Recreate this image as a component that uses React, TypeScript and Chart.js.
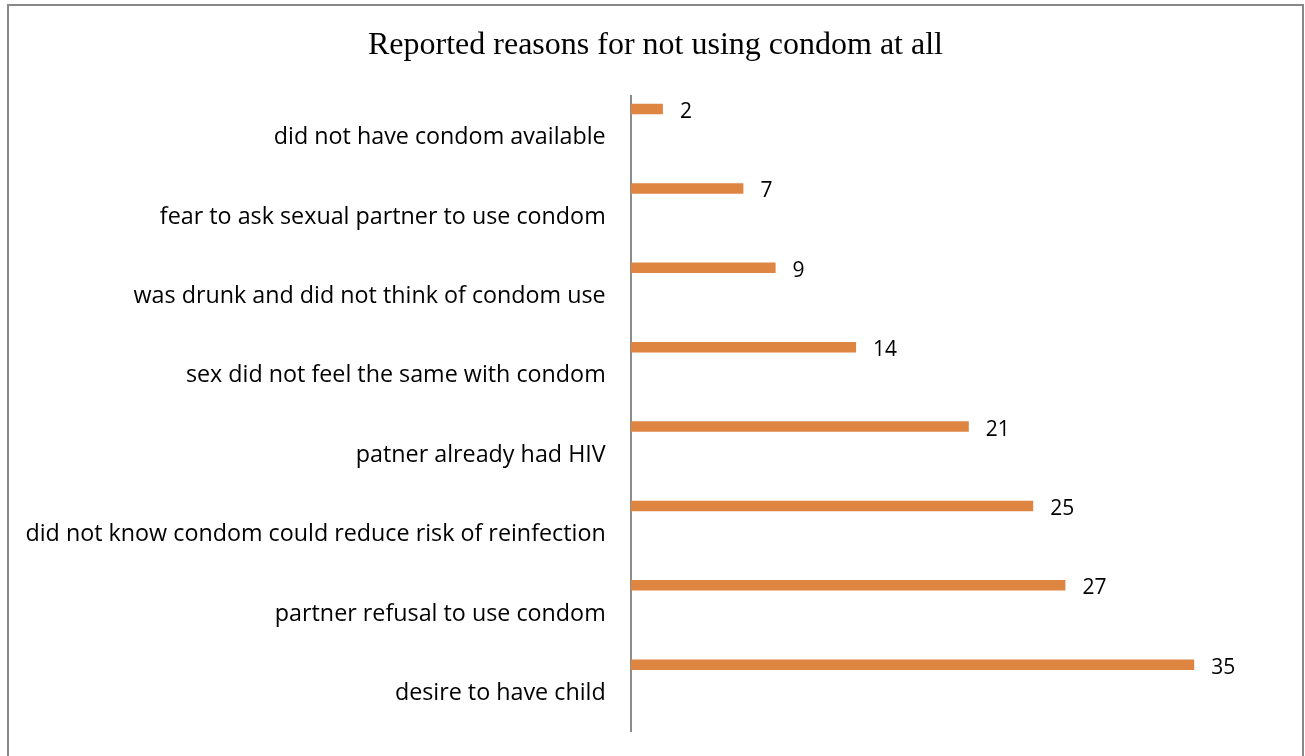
import { Chart, registerables } from "chart.js";
import { useEffect, useRef } from "react";

Chart.register(...registerables);

const reasons = [
  "did not have condom available",
  "fear to ask sexual partner to use condom",
  "was drunk and did not think of condom use",
  "sex did not feel the same with condom",
  "patner already had HIV",
  "did not know condom could reduce risk of reinfection",
  "partner refusal to use condom",
  "desire to have child",
];
const counts = [2, 7, 9, 14, 21, 25, 27, 35];

const titleText = "Reported reasons for not using condom at all";
const labelFont = "'Open Sans', 'Noto Sans', sans-serif";

// draws title and the value next to each bar
const extras = {
  id: "extras",
  afterDatasetsDraw(chart: Chart) {
    const ctx = chart.ctx;
    ctx.save();
    ctx.fillStyle = "#000";
    ctx.font = "32px 'Liberation Serif', 'Times New Roman', serif";
    ctx.textAlign = "center";
    ctx.textBaseline = "alphabetic";
    ctx.fillText(titleText, 655.5, 54);

    const meta = chart.getDatasetMeta(0);
    ctx.font = `21px ${labelFont}`;
    ctx.textAlign = "left";
    ctx.textBaseline = "middle";
    meta.data.forEach((bar: any, i: number) => {
      ctx.fillText(String(counts[i]), bar.x + 17, bar.y + 3);
    });
    ctx.restore();
  },
};

const options: any = {
  indexAxis: "y",
  animation: false,
  responsive: false,
  maintainAspectRatio: false,
  layout: {
    padding: { top: 96, bottom: 25, right: 30.3, left: 0 },
  },
  scales: {
    x: {
      display: false,
      min: 0,
      max: 40,
    },
    y: {
      grid: { display: false, drawTicks: false },
      border: { display: true, color: "#8c8c8c", width: 2 },
      ticks: {
        color: "#000",
        padding: 25,
        labelOffset: 2,
        font: { family: labelFont, size: 23.3 },
      },
      afterFit: (scale: any) => {
        scale.width = 630.7;
        scale.paddingTop = 0;
        scale.paddingBottom = 0;
      },
    },
  },
  plugins: {
    legend: { display: false },
    tooltip: { enabled: false },
    title: { display: false },
  },
};

const BarChart = () => {
  const rootRef = useRef<null | HTMLCanvasElement>(null);

  useEffect(() => {
    if (!rootRef.current) return;
    const data = {
      labels: reasons,
      datasets: [
        {
          label: "Reasons",
          data: counts,
          backgroundColor: "#de8542",
          categoryPercentage: 1.343,
          barPercentage: 0.197,
        },
        {
          // empty companion series, keeps the bars at the top of each band
          label: "",
          data: [],
          categoryPercentage: 1.343,
          barPercentage: 0.197,
        },
      ],
    };
    const c = new Chart(rootRef.current, {
      type: "bar",
      options,
      data,
      plugins: [extras],
    });
    return () => c.destroy();
  }, []);

  return (
    <canvas
      ref={rootRef}
      width={1305}
      height={756}
      style={{ width: 1305, height: 756, display: "block" }}
    />
  );
};

export default function App() {
  return (
    <div
      style={{
        position: "fixed",
        left: 0,
        top: 0,
        width: 1305,
        height: 756,
        overflow: "hidden",
        background: "#fff",
      }}
    >
      <div
        style={{
          position: "absolute",
          left: 7,
          top: 4,
          width: 1297,
          height: 800,
          border: "2px solid #888",
          boxSizing: "border-box",
        }}
      />
      <div style={{ position: "absolute", left: 0, top: 0 }}>
        <BarChart />
      </div>
    </div>
  );
}
